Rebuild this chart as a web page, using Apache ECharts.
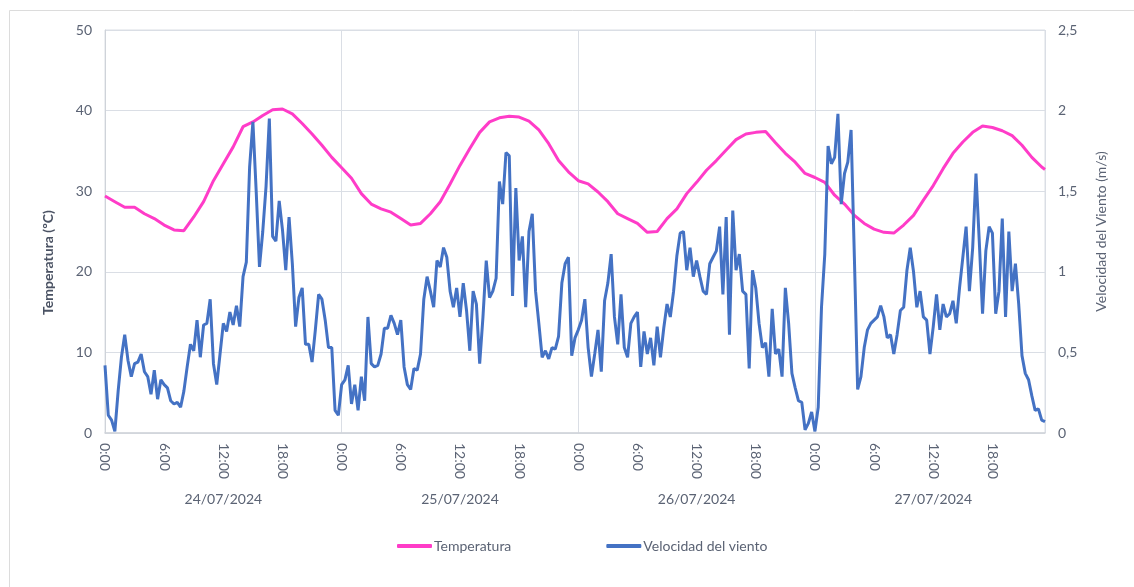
<!DOCTYPE html>
<html><head><meta charset="utf-8">
<script src="https://cdn.jsdelivr.net/npm/echarts@6/dist/echarts.min.js"></script>
<style>html,body{margin:0;padding:0;background:#fff}#c{width:1134px;height:587px}</style>
</head><body><div id="c"></div>
<script>
const dayLabels = ['24/07/2024', '25/07/2024', '26/07/2024', '27/07/2024'];
const hourTicks = ['0:00', '6:00', '12:00', '18:00'];

// Temperatura (ºC), hourly from 0:00 of each day
const tempDay1 = [29.4, 28.7, 28.0, 28.0, 27.2, 26.6, 25.8, 25.2, 25.1, 26.8, 28.7, 31.3, 33.4, 35.5, 38.0, 38.6, 39.4, 40.1, 40.2, 39.6, 38.4, 37.1, 35.7, 34.2];
const tempDay2 = [32.9, 31.6, 29.7, 28.4, 27.8, 27.4, 26.6, 25.8, 26.0, 27.2, 28.7, 30.9, 33.2, 35.3, 37.3, 38.6, 39.1, 39.3, 39.2, 38.7, 37.6, 35.9, 33.8, 32.4];
const tempDay3 = [31.3, 30.9, 29.9, 28.7, 27.2, 26.6, 26.0, 24.9, 25.0, 26.6, 27.8, 29.7, 31.1, 32.6, 33.8, 35.1, 36.4, 37.1, 37.3, 37.4, 36.0, 34.7, 33.6, 32.2];
const tempDay4 = [31.7, 31.1, 29.5, 28.4, 27.0, 26.0, 25.3, 24.9, 24.8, 25.8, 27.0, 28.9, 30.7, 32.8, 34.7, 36.1, 37.3, 38.1, 37.9, 37.5, 36.9, 35.7, 34.2, 33.0];
const tempLast = 32.7;

// Velocidad del viento (m/s), every 20 minutes from 0:00 of each day
const windDay1 = [0.42,0.11,0.08,0.01,0.26,0.47,0.61,0.45,0.35,0.43,
  0.44,0.49,0.38,0.35,0.24,0.39,0.21,0.33,0.30,0.28,
  0.20,0.18,0.19,0.16,0.26,0.41,0.55,0.51,0.70,0.47,
  0.67,0.68,0.83,0.43,0.30,0.49,0.68,0.63,0.75,0.67,
  0.79,0.66,0.97,1.06,1.65,1.93,1.50,1.03,1.25,1.53,
  1.95,1.22,1.19,1.44,1.26,1.01,1.34,1.05,0.66,0.84,
  0.90,0.55,0.55,0.44,0.64,0.86,0.83,0.70,0.53,0.53,
  0.14,0.11];
const windDay2 = [0.30,0.33,0.42,0.18,0.30,0.14,0.35,0.20,0.72,0.43,
  0.41,0.42,0.49,0.65,0.65,0.73,0.68,0.61,0.70,0.41,
  0.30,0.27,0.40,0.39,0.49,0.83,0.97,0.88,0.78,1.07,
  1.03,1.15,1.09,0.88,0.78,0.90,0.72,0.93,0.76,0.51,
  0.88,0.80,0.43,0.72,1.07,0.84,0.88,0.96,1.56,1.42,
  1.74,1.72,0.85,1.52,1.07,1.22,0.78,1.25,1.36,0.88,
  0.68,0.47,0.51,0.46,0.53,0.52,0.60,0.93,1.05,1.09,
  0.48,0.59];
const windDay3 = [0.64,0.70,0.83,0.53,0.35,0.49,0.64,0.38,0.82,0.93,
  1.11,0.72,0.55,0.86,0.53,0.47,0.68,0.72,0.75,0.41,
  0.63,0.49,0.59,0.42,0.66,0.47,0.65,0.80,0.72,0.88,
  1.10,1.24,1.25,1.01,1.15,0.97,1.07,0.97,0.88,0.86,
  1.05,1.09,1.13,1.28,0.86,1.34,0.61,1.38,1.01,1.11,
  0.88,0.86,0.40,1.01,0.90,0.68,0.53,0.56,0.35,0.77,
  0.49,0.52,0.35,0.90,0.68,0.37,0.28,0.20,0.19,0.02,
  0.06,0.13];
const windDay4 = [0.01,0.16,0.78,1.11,1.78,1.67,1.71,1.98,1.42,1.61,
  1.68,1.88,1.09,0.27,0.35,0.53,0.64,0.68,0.70,0.72,
  0.79,0.72,0.59,0.61,0.49,0.61,0.76,0.78,1.01,1.15,
  1.00,0.78,0.88,0.72,0.70,0.49,0.66,0.86,0.64,0.80,
  0.72,0.74,0.82,0.68,0.90,1.09,1.28,0.88,1.15,1.61,
  1.19,0.74,1.13,1.28,1.24,0.74,0.88,1.33,0.72,1.25,
  0.88,1.05,0.80,0.48,0.37,0.33,0.23,0.14,0.15,0.08,
  0.07];

const WIND_STEP = 1 / 3;           // hours between wind readings
const LAST_HOUR = 95 + 1 / 3;      // last reading: 27/07 23:20

const tempData = [].concat(tempDay1, tempDay2, tempDay3, tempDay4).map((v, i) => [i, v]);
tempData.push([LAST_HOUR, tempLast]);
const windData = [].concat(windDay1, windDay2, windDay3, windDay4).map((v, i) => [i * WIND_STEP, v]);

const TXT = '#5b6374';
const GRID = '#dadee5';
const FONT = 'Lato';

const chart = echarts.init(document.getElementById('c'));
chart.setOption({
  animation: false,
  backgroundColor: '#fff',
  textStyle: { fontFamily: FONT },
  graphic: [{
    type: 'rect', left: 7, top: 8, silent: true,
    shape: { width: 1200, height: 700 },
    style: { fill: 'none', stroke: '#dcdcdc', lineWidth: 1 }
  }],
  grid: { left: 105, right: 89, top: 30, bottom: 154, show: true, borderColor: GRID, borderWidth: 1 },
  legend: {
    left: 397, top: 539, padding: 0, itemWidth: 35, itemHeight: 4, itemGap: 95, icon: 'roundRect',
    textStyle: { color: TXT, fontSize: 14, fontFamily: FONT, padding: [0, 0, 0, -3] },
    data: ['Temperatura', 'Velocidad del viento']
  },
  xAxis: [{
    type: 'value', min: 0, max: LAST_HOUR, interval: 6,
    axisLine: { show: true, lineStyle: { color: '#cfd3d9', width: 1.5 } },
    axisTick: { show: false },
    splitLine: { show: false },
    axisLabel: {
      rotate: -90, margin: 10, color: TXT, fontSize: 14, fontFamily: FONT,
      showMaxLabel: false,
      formatter: v => hourTicks[Math.round((v % 24) / 6) % 4]
    }
  }, {
    type: 'value', min: 0, max: LAST_HOUR, interval: 12, position: 'bottom',
    axisLine: { show: false }, axisTick: { show: false }, splitLine: { show: false },
    axisLabel: {
      margin: 59, color: TXT, fontSize: 14, fontFamily: FONT, showMaxLabel: false, showMinLabel: false,
      formatter: v => (Math.round(v) % 24 === 12) ? dayLabels[Math.floor(v / 24)] : ''
    }
  }, {
    type: 'value', min: 0, max: LAST_HOUR, interval: 24, position: 'bottom', show: true,
    axisLine: { show: false }, axisTick: { show: false }, axisLabel: { show: false },
    splitLine: { show: true, lineStyle: { color: GRID, width: 1 } }
  }],
  yAxis: [{
    type: 'value', min: 0, max: 50, interval: 10, position: 'left',
    name: 'Temperatura (ºC)', nameLocation: 'middle', nameRotate: 90, nameGap: 50,
    nameTextStyle: { color: '#4a5263', fontSize: 14, fontWeight: 'bold', fontFamily: FONT, padding: [0, 62, 0, 0] },
    axisLine: { show: true, lineStyle: { color: '#cfd3d9' } },
    axisTick: { show: false },
    splitLine: { show: true, lineStyle: { color: GRID, width: 1 } },
    axisLabel: { margin: 13, color: TXT, fontSize: 14, fontFamily: FONT }
  }, {
    type: 'value', min: 0, max: 2.5, interval: 0.5, position: 'right',
    name: 'Velocidad del Viento (m/s)', nameLocation: 'middle', nameRotate: 90, nameGap: 49,
    nameTextStyle: { color: TXT, fontSize: 14, fontFamily: FONT },
    axisLine: { show: false }, axisTick: { show: false }, splitLine: { show: false },
    axisLabel: { margin: 13, color: TXT, fontSize: 14, fontFamily: FONT, formatter: v => String(v).replace('.', ',') }
  }],
  series: [{
    name: 'Temperatura', type: 'line', xAxisIndex: 0, yAxisIndex: 0,
    data: tempData, symbol: 'none', smooth: false,
    lineStyle: { color: '#ff3cc8', width: 3 }, itemStyle: { color: '#ff3cc8' }
  }, {
    name: 'Velocidad del viento', type: 'line', xAxisIndex: 0, yAxisIndex: 1,
    data: windData, symbol: 'none', smooth: false,
    lineStyle: { color: '#4472c4', width: 3 }, itemStyle: { color: '#4472c4' }
  }]
});
</script></body></html>
